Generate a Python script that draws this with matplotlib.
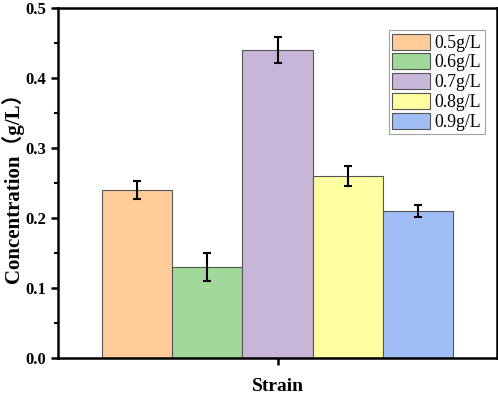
import numpy as np
import matplotlib.pyplot as plt
from matplotlib.ticker import MultipleLocator

plt.rcParams['font.family'] = ['Liberation Serif', 'Noto Sans CJK SC']

labels = ['0.5g/L', '0.6g/L', '0.7g/L', '0.8g/L', '0.9g/L']
values = [0.24, 0.13, 0.44, 0.26, 0.21]
errors = [0.013, 0.020, 0.018, 0.014, 0.009]
colors = ['#FFCC99', '#A0D89A', '#C8B6D9', '#FFFFA2', '#A0BEF5']

fig = plt.figure(figsize=(4.98, 3.95), dpi=100)
ax = fig.add_axes([58/498, 1 - 358/395, 439/498, 350/395])

w = 0.16
pos = (np.arange(len(values)) - 2) * w
for p, v, e, c, lab in zip(pos, values, errors, colors, labels):
    ax.bar(p, v, width=w, color=c, edgecolor='#555555', linewidth=0.8, label=lab,
           yerr=e, capsize=3, error_kw=dict(elinewidth=1.5, capthick=1.5, ecolor='black'))

ax.set_xlim(-0.5, 0.5)
ax.set_ylim(0, 0.5)
ax.set_xticks([0])
ax.set_xticklabels([''])
ax.set_xlabel('Strain', fontsize=14, fontweight='bold', labelpad=6,
              family='Liberation Serif')
ax.set_ylabel('Concentration（g/L）', fontsize=15, fontweight='bold', labelpad=1,
              family=['Liberation Serif', 'Noto Sans CJK SC'])
ax.yaxis.set_major_locator(MultipleLocator(0.1))
ax.yaxis.set_minor_locator(MultipleLocator(0.05))
yt = np.arange(0, 0.51, 0.1)
ax.set_yticks(yt)
ax.set_yticklabels([f'{t:.1f}' for t in yt], fontweight='bold', fontsize=12,
                   family='Liberation Serif')
ax.set_ylim(0, 0.5)
for s in ax.spines.values():
    s.set_linewidth(1.8)
ax.tick_params(axis='both', which='major', direction='out', length=5, width=1.8)
ax.tick_params(axis='y', which='minor', direction='out', length=3, width=1.5)

leg = ax.legend(loc='upper right', bbox_to_anchor=(0.973, 0.937), borderaxespad=0,
                fontsize=12.8, fancybox=False, edgecolor='#888888',
                handlelength=2.1, handleheight=1.0, labelspacing=0.1,
                borderpad=0.2, handletextpad=0.3)
leg.get_frame().set_linewidth(0.8)

fig.savefig('out.png', dpi=100)
